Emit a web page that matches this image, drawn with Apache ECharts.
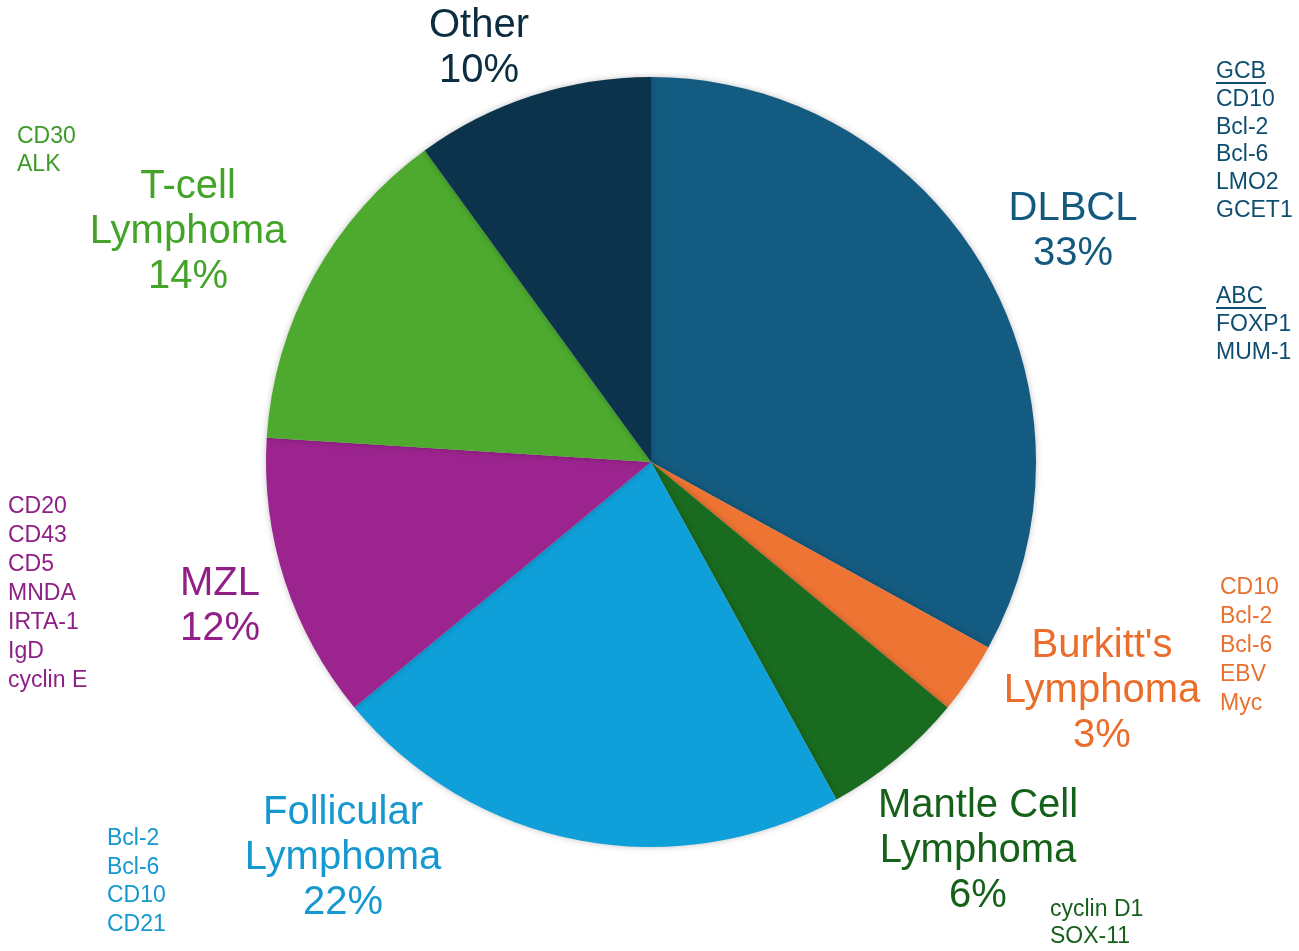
<!DOCTYPE html>
<html><head><meta charset="utf-8">
<script src="https://cdn.jsdelivr.net/npm/echarts@6/dist/echarts.min.js"></script>
<style>html,body{margin:0;padding:0;background:#fff}#c{width:1299px;height:951px}</style>
</head><body><div id="c"></div>
<script>
// ---- data ----
const categories = ["DLBCL", "Burkitt's\nLymphoma", "Mantle Cell\nLymphoma", "Follicular\nLymphoma", "MZL", "T-cell\nLymphoma", "Other"];
const shares = [33, 3, 6, 22, 12, 14, 10];
const gcbHeader = "GCB";
const markersGCB = ["CD10", "Bcl-2", "Bcl-6", "LMO2", "GCET1"];
const abcHeader = "ABC";
const markersABC = ["FOXP1", "MUM-1"];
const markersBurkitt = ["CD10", "Bcl-2", "Bcl-6", "EBV", "Myc"];
const markersMantle = ["cyclin D1", "SOX-11"];
const markersFollicular = ["Bcl-2", "Bcl-6", "CD10", "CD21"];
const markersMZL = ["CD20", "CD43", "CD5", "MNDA", "IRTA-1", "IgD", "cyclin E"];
const markersTcell = ["CD30", "ALK"];

// ---- styles / layout ----
const FONT = '"Liberation Sans", Arial, Helvetica, sans-serif';
const sliceColors = ['#145B81', '#EE7433', '#196B1F', '#0FA0DA', '#9C248F', '#4DAA2E', '#0B344C'];
const labelColors = ['#145A80', '#EA6D2C', '#166119', '#1598D0', '#921F88', '#44A42A', '#0B2D42'];
const labelPos = [[1073, 231], [1102, 691], [978, 851], [343, 858], [220, 606], [188, 232], [479, 48]];

const markerBlocks = [
  { lines: [gcbHeader].concat(markersGCB), x: 1216, y: 72, lh: 27.7, color: '#0F4E70' },
  { lines: [abcHeader].concat(markersABC), x: 1216, y: 297, lh: 28, color: '#0F4E70' },
  { lines: markersBurkitt, x: 1220, y: 588, lh: 29, color: '#E8712F' },
  { lines: markersMantle, x: 1050, y: 910, lh: 27, color: '#175F1B' },
  { lines: markersFollicular, x: 107, y: 839, lh: 28.5, color: '#1598CF' },
  { lines: markersMZL, x: 8, y: 507, lh: 29, color: '#8E1F86' },
  { lines: markersTcell, x: 17, y: 137, lh: 28, color: '#3E9A27' }
];

const graphics = markerBlocks.map(b => ({
  type: 'text', x: b.x, y: b.y - b.lh / 2,
  style: { text: b.lines.join('\n'), fill: b.color, font: '23px ' + FONT, lineHeight: b.lh, verticalAlign: 'top', align: 'left' }
}));
// underlines for GCB / ABC headers
graphics.push({ type: 'line', shape: { x1: 1216, y1: 83, x2: 1266, y2: 83 }, style: { stroke: '#0F4E70', lineWidth: 2 } });
graphics.push({ type: 'line', shape: { x1: 1216, y1: 308, x2: 1266, y2: 308 }, style: { stroke: '#0F4E70', lineWidth: 2 } });

const chart = echarts.init(document.getElementById('c'), null, { renderer: 'canvas' });
chart.setOption({
  backgroundColor: '#ffffff',
  animation: false,
  graphic: graphics,
  series: [{
    type: 'pie',
    center: [651, 462],
    radius: 385,
    startAngle: 90,
    clockwise: true,
    avoidLabelOverlap: false,
    data: categories.map((c, i) => ({
      name: c, value: shares[i],
      itemStyle: { color: sliceColors[i] },
      label: { color: labelColors[i] }
    })),
    itemStyle: { borderWidth: 0, shadowBlur: 6, shadowColor: 'rgba(0,0,0,0.25)' },
    label: {
      show: true,
      position: 'outside',
      formatter: p => p.name + '\n' + p.value + '%',
      fontFamily: FONT,
      fontSize: 40,
      lineHeight: 45,
      align: 'center'
    },
    labelLine: { show: false },
    labelLayout: p => ({
      x: labelPos[p.dataIndex][0],
      y: labelPos[p.dataIndex][1],
      align: 'center',
      verticalAlign: 'middle'
    }),
    emphasis: { disabled: true }
  }]
});
</script>
</body></html>
